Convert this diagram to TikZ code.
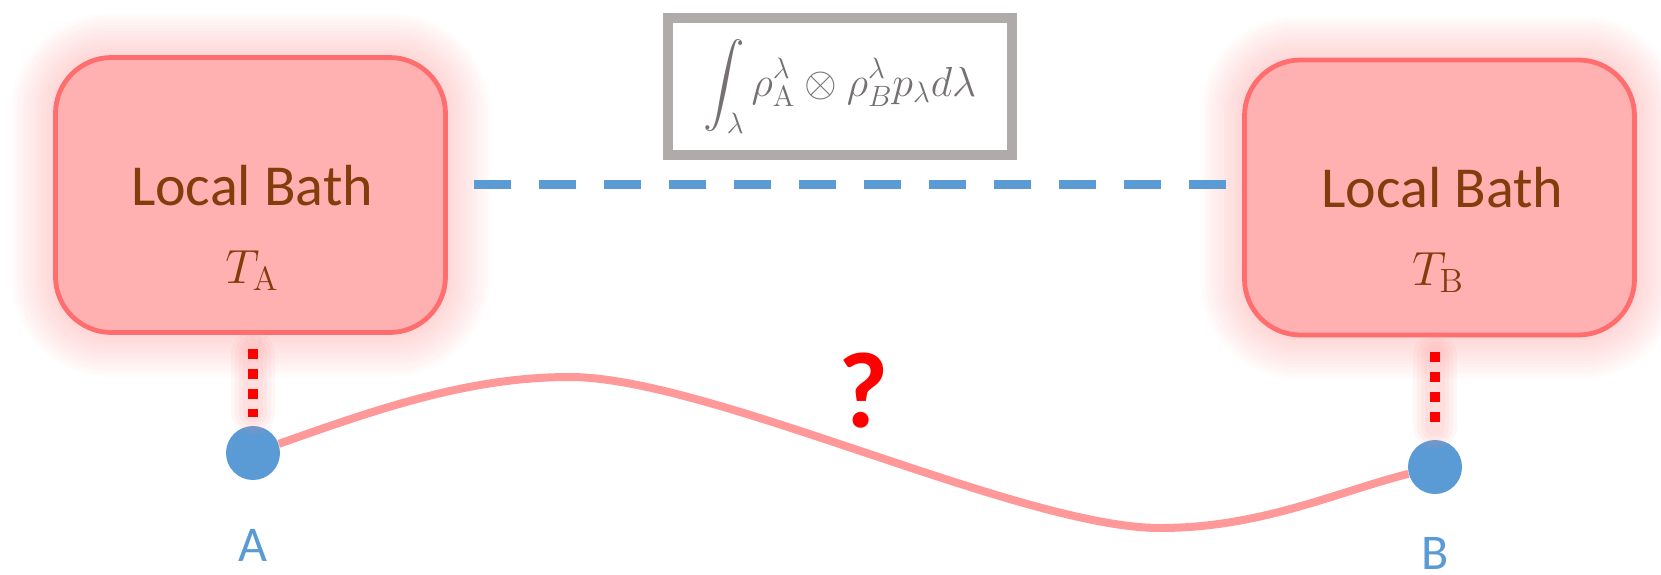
\RequirePackage{fix-cm}
\documentclass[tikz,border=0pt]{standalone}
\usepackage{exscale}
\usepackage[no-math]{fontspec}
\setmainfont{Carlito}
\usetikzlibrary{backgrounds}
\definecolor{boxfill}{HTML}{FFB1B1}
\definecolor{boxedge}{HTML}{FF6E6E}
\definecolor{brownT}{HTML}{843C0C}
\definecolor{blueC}{HTML}{5B9BD5}
\definecolor{grayB}{HTML}{AFABAB}
\definecolor{grayT}{HTML}{767171}
\definecolor{curveC}{HTML}{FF9999}
\definecolor{glowC}{HTML}{FF8A8A}
\definecolor{redD}{HTML}{FF0000}
\begin{document}
\begin{tikzpicture}[x=0.5pt,y=-0.5pt,
  bath/.style={rectangle, rounded corners=28pt, minimum width=195pt, minimum height=137.5pt,
    fill=boxfill, draw=boxedge, line width=2.4pt, inner sep=0pt},
  title/.style={text=brownT, font=\fontsize{29pt}{34pt}\selectfont, inner sep=0pt},
  temp/.style={text=brownT, font=\fontsize{24pt}{28pt}\selectfont, inner sep=0pt},
  formula/.style={rectangle, draw=grayB, line width=5pt, fill=white, text=grayT,
    minimum width=172pt, minimum height=68.5pt, font=\fontsize{21pt}{25pt}\selectfont},
  dotnode/.style={circle, fill=blueC, minimum size=27pt, inner sep=0pt},
  lab/.style={text=blueC, font=\fontsize{25pt}{30pt}\selectfont, inner sep=0pt},
  qmark/.style={text=redD, font=\fontsize{54pt}{60pt}\selectfont\bfseries, inner sep=0pt},
  link/.style={draw=curveC, line width=4pt},
  bluedash/.style={draw=blueC, line width=4.5pt, dash pattern=on 18.5pt off 14pt},
  reddots/.style={draw=redD, line width=5pt, dash pattern=on 5pt off 5pt},
  dotglow/.style={draw=glowC, line cap=round, opacity=0.08}
]
\useasboundingbox (0,0) rectangle (1661,574);

% boxes
\node[bath] (boxA) at (250.5,195) {};
\node[bath] (boxB) at (1439.5,197.5) {};

% glow behind boxes
\begin{scope}[on background layer]
  \foreach \i in {1,...,14}{
    \pgfmathsetmacro{\rr}{28+1.5*\i}
    \fill[glowC, opacity=0.028, rounded corners=\rr pt]
      ([shift={(-3*\i,-3*\i)}]boxA.north west) rectangle ([shift={(3*\i,3*\i)}]boxA.south east);
    \fill[glowC, opacity=0.028, rounded corners=\rr pt]
      ([shift={(-3*\i,-3*\i)}]boxB.north west) rectangle ([shift={(3*\i,3*\i)}]boxB.south east);
  }
\end{scope}

% texts in boxes
\node[title, anchor=base] (titleA) at (252,205) {Local Bath};
\node[temp, anchor=base] (tempA) at (252,283) {$T_{\mathrm{A}}$};
\node[title, anchor=base] (titleB) at (1442.5,207) {Local Bath};
\node[temp, anchor=base] (tempB) at (1438,285) {$T_{\mathrm{B}}$};

% formula box
\node[formula] (form) at (840,86.5)
  {$\displaystyle\int_\lambda \rho_{\mathrm{A}}^{\lambda}\otimes\rho_B^{\lambda}p_\lambda d\lambda$};

% particles
\node[dotnode] (A) at (253,453) {};
\node[dotnode] (B) at (1435,467) {};
\node[lab, anchor=base] (labA) at (253,561) {A};
\node[lab, anchor=base] (labB) at (1435,569) {B};

% question mark
\node[qmark] (q) at (864,391) {?};

% blue dashed link between baths
\draw[bluedash] ([xshift=13.25pt,yshift=5.5pt]boxA.east) -- ([xshift=-7.75pt,yshift=6.75pt]boxB.west);

% red dotted couplings with glow
\foreach \w in {10,14,18,22}{
  \draw[dotglow, line width=\w pt] ([yshift=-9pt]A |- boxA.south) -- ([yshift=6.5pt]A.north);
  \draw[dotglow, line width=\w pt] ([yshift=-9pt]B |- boxB.south) -- ([yshift=6.5pt]B.north);
}
\draw[reddots] ([yshift=-7.25pt]A |- boxA.south) -- ([yshift=4.5pt]A.north);
\draw[reddots] ([yshift=-7.25pt]B |- boxB.south) -- ([yshift=4.5pt]B.north);

% wavy correlation curve
\draw[link] (A) .. controls (380,408) and (470,377) .. (570,377)
  .. controls (709,377) and (1021,528) .. (1160,528)
  .. controls (1260,528) and (1335,492.6) .. (B);
\end{tikzpicture}
\end{document}
